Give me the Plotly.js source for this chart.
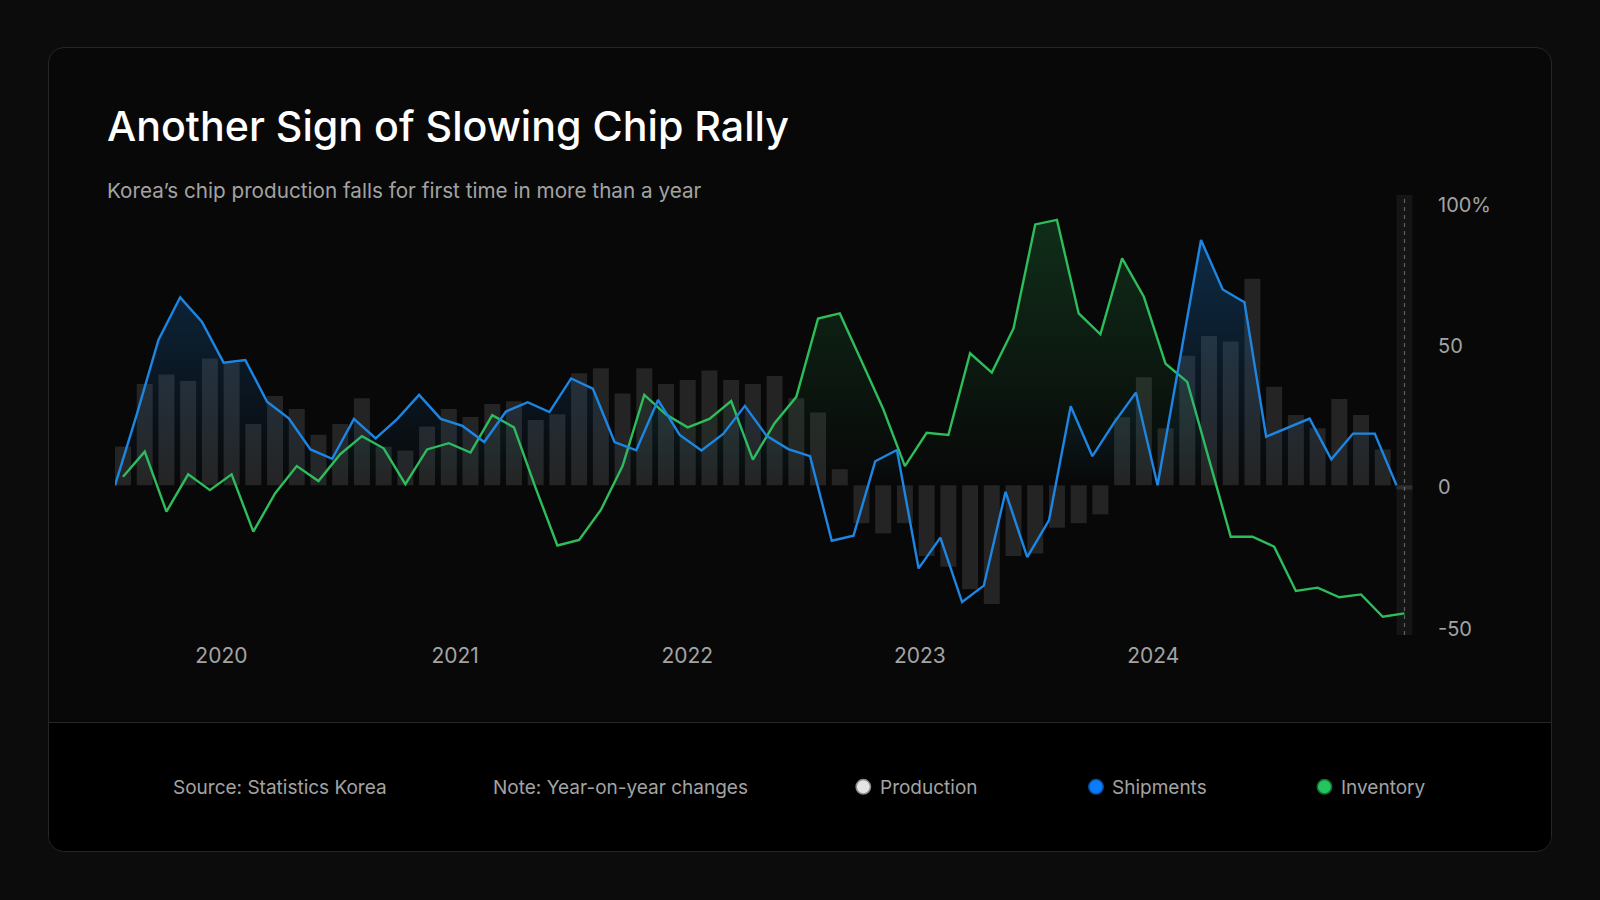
<!DOCTYPE html>
<html>
<head>
<meta charset="utf-8">
<script src="https://cdn.plot.ly/plotly-3.0.1.min.js"></script>
<style>
  html, body { margin:0; padding:0; background:#0c0c0c; width:1600px; height:900px; overflow:hidden; }
  #card { position:absolute; left:48px; top:47px; width:1502px; height:803px; border:1px solid #262626; border-radius:16px; background:#080808; overflow:hidden; }
  #footer { position:absolute; left:0; right:0; top:674px; bottom:0; background:#000; border-top:1px solid #262626; }
  #chart { position:absolute; left:0; top:0; width:1600px; height:900px; }
</style>
</head>
<body>
<div id="card"><div id="footer"></div></div>
<div id="chart"></div>
<script>
// ---------------- DATA (year-on-year % change, monthly) ----------------
const production = [13.7, 35.8, 39.2, 36.9, 44.9, 43.4, 21.7, 31.6, 27.0, 17.9,
                    21.7, 30.8, 13.7, 12.3, 20.8, 27.0, 24.2, 28.8, 29.7, 23.1,
                    25.1, 39.6, 41.4, 32.5, 41.4, 35.8, 37.3, 40.6, 37.3, 35.8,
                    38.7, 30.8, 25.8, 5.7, -13.4, -17.0, -13.4, -25.0, -28.8, -36.8,
                    -42.0, -25.0, -24.1, -15.0, -13.4, -10.3, 24.1, 38.2, 20.2, 45.8,
                    52.8, 50.9, 73.1, 34.9, 24.9, 20.2, 30.5, 24.9, 12.7, -1.5];
const shipments = [0, 25, 51.4, 66.5, 57.9, 43.4, 44.3, 29.6, 23.7, 12.7,
                   9.4, 23.5, 16.6, 23.5, 32.0, 23.5, 21.0, 15.3, 26.1, 29.4,
                   25.9, 37.8, 34.2, 15.3, 12.4, 30.2, 17.8, 12.3, 18.2, 28.1,
                   17.5, 12.8, 10.3, -19.6, -17.8, 8.5, 12.5, -29.4, -18.5, -41.3,
                   -35.5, -2.3, -25.4, -12.4, 28.0, 10.3, 22.2, 32.8, 0, 43,
                   86.8, 69.3, 64.8, 17.2, 20.5, 23.6, 9.2, 18.3, 18.3, 0];
const inventory = [3, 11.9, -9.3, 3.9, -1.7, 3.9, -16.4, -2.9, 6.8, 1.5,
                   11.0, 17.4, 13.1, 0.4, 12.7, 14.9, 11.6, 24.8, 20.5, -1,
                   -21.3, -19.3, -8.7, 6.8, 32.0, 25, 20.5, 23.5, 29.8, 9.1,
                   22.0, 31.3, 59.0, 60.8, 44, 27, 6.8, 18.6, 17.8, 46.7,
                   39.9, 55.5, 92.3, 93.9, 60.8, 53.4, 80.3, 66.7, 43, 36.6,
                   9.2, -18.2, -18.2, -21.7, -37.4, -36.2, -39.6, -38.6, -46.5, -45.3];
const monthIdx = production.map((_, i) => i);

const yearLabels  = ['2020', '2021', '2022', '2023', '2024'];
const yearTickPos = [4.53, 15.29, 25.98, 36.69, 47.43];
const yTickVals   = [100, 50, 0, -50];
const yTickText   = ['100%', '50', '0', '-50'];
const gridVals    = [50, 0, -50];

const seriesNames = ['Production', 'Shipments', 'Inventory'];
const titleText = 'Another Sign of Slowing Chip Rally';
const subtitleText = 'Korea\u2019s chip production falls for first time in more than a year';
const sourceText = 'Source: Statistics Korea';
const noteText = 'Note: Year-on-year changes';

// ---------------- STYLE ----------------
const FONT = "Inter, 'Noto Sans', 'DejaVu Sans', sans-serif";
const BLUE = '#1d86e3';
const GREEN = '#2ebd5b';
const MUTED = '#a3a3a3';

// plot area in pixels: x 115..1415, y 195..635
const PL = 115, PR = 1415, PT = 195, PB = 635;
const PW = PR - PL, PH = PB - PT;
const px2paperX = p => (p - PL) / PW;
const px2paperY = p => (PB - p) / PH;

const yRange = [-52.95, 102.7];
const barStep = 21.72;          // px per month
const barW = 16 / barStep;      // bar width in month units
const xRange  = [-8 / barStep, -8 / barStep + PW / barStep];   // month centres
const x2Range = [0, PW / barStep];                               // month starts

const traces = [
  {
    type: 'bar', name: seriesNames[0], x: monthIdx, y: production,
    width: barW, xaxis: 'x', yaxis: 'y',
    marker: { color: 'rgba(255,255,255,0.115)', line: { width: 0 } },
    hoverinfo: 'skip', showlegend: false
  },
  {
    type: 'scatter', mode: 'lines', name: seriesNames[2], x: monthIdx, y: inventory,
    xaxis: 'x', yaxis: 'y',
    line: { color: GREEN, width: 2.4 },
    fill: 'tozeroy',
    fillgradient: { type: 'vertical', start: 0, stop: 100,
      colorscale: [[0, 'rgba(46,189,91,0)'], [1, 'rgba(46,189,91,0.22)']] },
    hoverinfo: 'skip', showlegend: false
  },
  {
    type: 'scatter', mode: 'lines', name: seriesNames[1], x: monthIdx, y: shipments,
    xaxis: 'x2', yaxis: 'y',
    line: { color: BLUE, width: 2.4 },
    fill: 'tozeroy',
    fillgradient: { type: 'vertical', start: 0, stop: 100,
      colorscale: [[0, 'rgba(29,134,227,0)'], [1, 'rgba(29,134,227,0.32)']] },
    hoverinfo: 'skip', showlegend: false
  }
];

const last = monthIdx[monthIdx.length - 1];

const shapes = [
  // highlight column for latest month
  { type: 'rect', xref: 'x', yref: 'paper', x0: last - barW / 2, x1: last + barW / 2, y0: 0, y1: 1,
    fillcolor: 'rgba(255,255,255,0.055)', line: { width: 0 }, layer: 'below' },
  { type: 'line', xref: 'x', yref: 'paper', x0: last, x1: last, y0: 0, y1: 1,
    line: { color: '#5e5e5e', width: 1.2, dash: '4px,4px' }, layer: 'below' }
];

// legend markers (footer)
const legendColors = [
  { fill: '#e4e4e4', line: '#8a8a8a', cx: 863.3, tx: 877.5 },
  { fill: '#0b7cff', line: '#0a4fa8', cx: 1096.0, tx: 1110.0 },
  { fill: '#22c55e', line: '#146c34', cx: 1324.5, tx: 1339.0 }
];
const footY = 786.8, footTextY = 787.8, r = 7.2;
legendColors.forEach(c => {
  shapes.push({ type: 'circle', xref: 'paper', yref: 'paper',
    x0: px2paperX(c.cx - r), x1: px2paperX(c.cx + r),
    y0: px2paperY(footY + r), y1: px2paperY(footY - r),
    fillcolor: c.fill, line: { color: c.line, width: 1.5 } });
});

const FOOT_SIZE = 19;
const annotations = [
  { text: subtitleText, xref: 'paper', yref: 'paper', x: px2paperX(104.5), y: px2paperY(190.5),
    xanchor: 'left', yanchor: 'middle', showarrow: false, font: { size: 20.7, color: MUTED, family: FONT } },
  { text: sourceText, xref: 'paper', yref: 'paper', x: px2paperX(171), y: px2paperY(footTextY),
    xanchor: 'left', yanchor: 'middle', showarrow: false, font: { size: FOOT_SIZE, color: MUTED, family: FONT } },
  { text: noteText, xref: 'paper', yref: 'paper', x: px2paperX(490.5), y: px2paperY(footTextY),
    xanchor: 'left', yanchor: 'middle', showarrow: false, font: { size: FOOT_SIZE, color: MUTED, family: FONT } }
];
seriesNames.forEach((n, i) => {
  annotations.push({ text: n, xref: 'paper', yref: 'paper', x: px2paperX(legendColors[i].tx), y: px2paperY(footTextY),
    xanchor: 'left', yanchor: 'middle', showarrow: false, font: { size: FOOT_SIZE, color: MUTED, family: FONT } });
});

const layout = {
  width: 1600, height: 900,
  paper_bgcolor: 'rgba(0,0,0,0)', plot_bgcolor: 'rgba(0,0,0,0)',
  margin: { l: PL, r: 1600 - PR, t: PT, b: 900 - PB, pad: 0 },
  showlegend: false,
  font: { family: FONT, color: MUTED },
  title: { text: titleText, xref: 'container', yref: 'container',
    x: 107 / 1600, xanchor: 'left', y: 1 - 127 / 900, yanchor: 'middle',
    font: { size: 41.2, color: '#ffffff', family: FONT, weight: 500 } },
  xaxis: { range: xRange, showgrid: false, zeroline: false, showline: false, ticks: '',
    tickmode: 'array', tickvals: yearTickPos, ticktext: yearLabels,
    tickfont: { size: 21, color: MUTED, family: FONT }, ticklabelstandoff: 6, fixedrange: true },
  xaxis2: { range: x2Range, overlaying: 'x', visible: false, fixedrange: true },
  yaxis: { range: yRange, side: 'right', showgrid: false, zeroline: false, showline: false, ticks: '',
    tickmode: 'array', tickvals: yTickVals, ticktext: yTickText, ticklabelshift: 2,
    tickfont: { size: 20, color: MUTED, family: FONT }, ticklabelstandoff: 22, fixedrange: true },
  yaxis2: { range: yRange, overlaying: 'y', side: 'right', showgrid: true, gridcolor: '#262626', gridwidth: 1,
    zeroline: false, showline: false, ticks: '', tickmode: 'array', tickvals: gridVals,
    showticklabels: false, fixedrange: true },
  shapes: shapes,
  annotations: annotations
};

Plotly.newPlot('chart', traces, layout, { displayModeBar: false, staticPlot: true });
</script>
</body>
</html>
